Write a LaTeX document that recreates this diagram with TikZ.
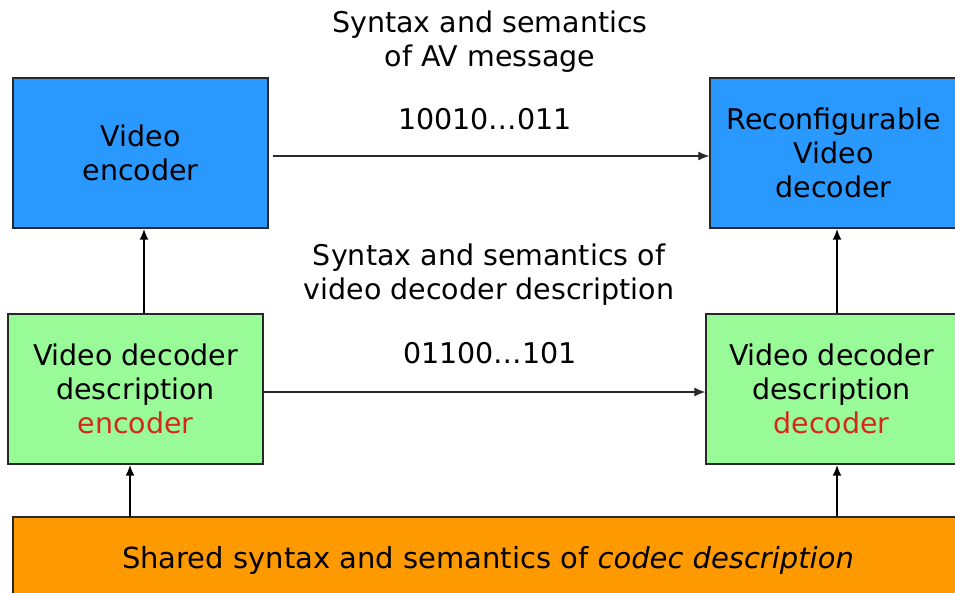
\documentclass[tikz,border=0pt]{standalone}
\usepackage{fontspec}
\setmainfont{DejaVu Sans}
\usetikzlibrary{arrows.meta}
\definecolor{boxblue}{RGB}{41,153,255}
\definecolor{boxgreen}{RGB}{152,251,152}
\definecolor{boxorange}{RGB}{255,153,0}
\definecolor{txtred}{RGB}{214,40,26}
\definecolor{edge}{RGB}{40,40,40}
\tikzset{
  every node/.style={font=\fontsize{28.5}{34}\selectfont, align=center},
  block/.style={draw=edge, line width=1.4pt, inner sep=0pt},
  bluebox/.style={block, fill=boxblue},
  greenbox/.style={block, fill=boxgreen},
  orangebox/.style={block, fill=boxorange},
  flow/.style={draw=edge, line width=1.2pt, -{Latex[length=11pt,width=9pt]}},
  feed/.style={draw=black, line width=2pt, -{Latex[length=11pt,width=9pt]}},
  caption/.style={inner sep=0pt}
}
\begin{document}
\begin{tikzpicture}[x=1pt,y=-1pt]
  \useasboundingbox (0,0) rectangle (955,592);
  \fill[white] (0,0) rectangle (955,592);

  % blocks
  \node[bluebox, minimum width=255pt, minimum height=150pt] (venc) at (140.5,153) {Video\\encoder};
  \node[bluebox, minimum width=247pt, minimum height=150pt] (rdec) at (833.5,153) {Reconfigurable\\Video\\decoder};
  \node[greenbox, minimum width=255pt, minimum height=150pt] (gl) at (135.5,389)
    {Video decoder\\description\\\textcolor{txtred}{encoder}};
  \node[greenbox, minimum width=251pt, minimum height=150pt] (gr) at (831.5,389)
    {Video decoder\\description\\\textcolor{txtred}{decoder}};
  \node[orangebox, minimum width=950pt, minimum height=86pt] (shared) at (488,560)
    {\fontsize{29}{34}\selectfont\raisebox{5pt}{Shared syntax and semantics of \textit{codec description}}};

  % captions
  \node[caption] (avsyn) at (490,41.5) {Syntax and semantics\\of AV message};
  \node[caption] (avbits) at (485,119) {10010…011};
  \node[caption] (vdsyn) at (489,275) {Syntax and semantics of\\video decoder description};
  \node[caption] (vdbits) at (490,353) {01100…101};

  % horizontal transmissions
  \draw[flow] ([xshift=4pt,yshift=-3pt]venc.east) -- ([yshift=-3pt]rdec.west);
  \draw[flow] ([yshift=-3pt]gl.east) -- ([yshift=-3pt]gr.west);

  % vertical feeds
  \draw[feed] ([xshift=8.5pt]gl.north) -- ([xshift=3.5pt]venc.south);
  \draw[feed] ([xshift=5.5pt]gr.north) -- ([xshift=3.5pt]rdec.south);
  \draw[feed] ([xshift=-5.5pt]gl.south |- shared.north) -- ([xshift=-5.5pt]gl.south);
  \draw[feed] ([xshift=5.5pt]gr.south |- shared.north) -- ([xshift=5.5pt]gr.south);
\end{tikzpicture}
\end{document}
